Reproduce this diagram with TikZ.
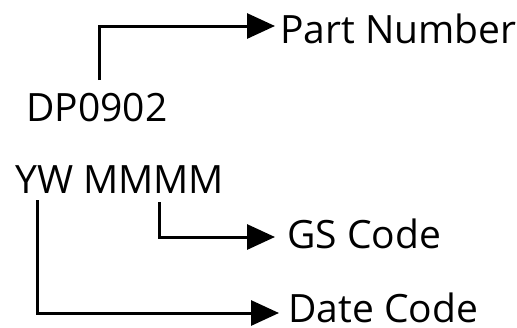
\documentclass[tikz,border=0pt]{standalone}
\usepackage{fontspec}
\setmainfont{Open Sans}
\usetikzlibrary{arrows.meta}
\begin{document}
\begin{tikzpicture}[x=1pt,y=-1pt,
  lbl/.style={inner sep=0pt,anchor=base west,font=\fontsize{39}{44}\selectfont},
  conn/.style={line width=3pt,-{Triangle[length=28pt,width=25pt]}}]
\useasboundingbox (0,0) rectangle (517,327);
\node[lbl] (pn) at (280,43) {Part Number};
\node[lbl] (dp) at (26,121) {DP0902};
\node[lbl] (yw) at (15,193) {YW MMMM};
\node[lbl] (gs) at (287,248) {GS Code};
\node[lbl] (dc) at (288,322) {Date Code};
\coordinate (a1) at (99,80);
\coordinate (a2) at (275,26);
\coordinate (b1) at (159,202);
\coordinate (b2) at (275,237);
\coordinate (c1) at (37,200);
\coordinate (c2) at (279,313);
\draw[conn] (a1) |- (a2);
\draw[conn] (b1) |- (b2);
\draw[conn] (c1) |- (c2);
\end{tikzpicture}
\end{document}
